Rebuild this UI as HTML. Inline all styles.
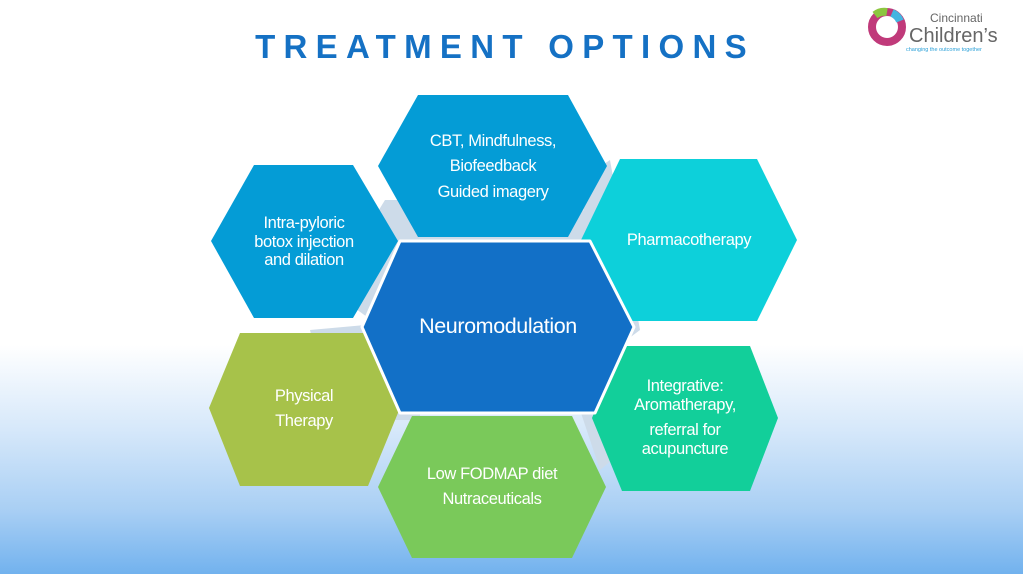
<!DOCTYPE html>
<html><head><meta charset="utf-8"><style>
html,body{margin:0;padding:0}
body{width:1023px;height:574px;overflow:hidden;position:relative;font-family:"Liberation Sans",sans-serif;
background:linear-gradient(to bottom,#fff 0px,#fff 345px,#d6e8fa 430px,#a9cff4 510px,#72b2ee 574px);}
.t{position:absolute;left:0;top:28px;width:1010px;text-align:center;font-weight:bold;font-size:33px;letter-spacing:8.3px;color:#1571c4}
svg{position:absolute;left:0;top:0}
text{font-family:"Liberation Sans",sans-serif;fill:#fff;text-anchor:middle;letter-spacing:-0.4px}
</style></head><body>
<div class="t">TREATMENT OPTIONS</div>
<svg width="1023" height="574">
<g fill="#cddbe9">
<polygon points="385,200 570,200 620,240 600,340 385,330 330,290"/>
<polygon points="580,180 610,160 640,330 600,360"/>
<polygon points="310,330 420,320 420,420 330,420"/>
<polygon points="570,380 620,340 660,420 600,470"/>
</g>
<polygon fill="#049cd6" points="378,166 418,95 568,95 607,166 568,237 418,237"/>
<polygon fill="#049cd6" points="211,241 254,165 353,165 398,241 353,318 254,318"/>
<polygon fill="#0dd0da" points="581,240 620,159 757,159 797,240 757,321 620,321"/>
<polygon fill="#a7c24a" points="209,408 240,333 368,333 400,408 368,486 240,486"/>
<polygon fill="#7ac95a" points="378,487 412,416 572,416 606,487 572,558 412,558"/>
<polygon fill="#12cf9a" points="592,418 622,346 750,346 778,418 750,491 622,491"/>
<g stroke="#fff" stroke-width="3" stroke-linejoin="round">
<polygon fill="#1270c7" points="362,327 400,241 590,241 634,327 595,413 400,413"/>
</g>
<g font-size="16.5">
<text x="493" y="146">CBT, Mindfulness,</text>
<text x="493" y="171">Biofeedback</text>
<text x="493" y="197">Guided imagery</text>
<text x="304" y="228">Intra-pyloric</text>
<text x="304" y="247">botox injection</text>
<text x="304" y="265">and dilation</text>
<text x="689" y="245">Pharmacotherapy</text>
<text x="304" y="401">Physical</text>
<text x="304" y="426">Therapy</text>
<text x="492" y="479">Low FODMAP diet</text>
<text x="492" y="504">Nutraceuticals</text>
<text x="685" y="391">Integrative:</text>
<text x="685" y="410">Aromatherapy,</text>
<text x="685" y="435">referral for</text>
<text x="685" y="454">acupuncture</text>
</g>
<text x="498" y="333" font-size="21.5">Neuromodulation</text>
<g>
<circle cx="887" cy="27" r="15" fill="none" stroke="#c03a7a" stroke-width="8"/>
<path d="M875 15 a15 15 0 0 1 12 -3" stroke="#8cc63f" stroke-width="8" fill="none"/>
<path d="M892 13 a15 15 0 0 1 8 8" stroke="#44b5e0" stroke-width="8" fill="none"/>
<circle cx="886" cy="28" r="6" fill="#fff"/>
</g>
<text x="930" y="22" font-size="12" style="fill:#666;text-anchor:start;letter-spacing:0">Cincinnati</text>
<text x="909" y="42" font-size="20" style="fill:#666;text-anchor:start;letter-spacing:0">Children’s</text>
<text x="906" y="51" font-size="5.5" style="fill:#2aa0d8;text-anchor:start;letter-spacing:0">changing the outcome together</text>
</svg>
</body></html>
